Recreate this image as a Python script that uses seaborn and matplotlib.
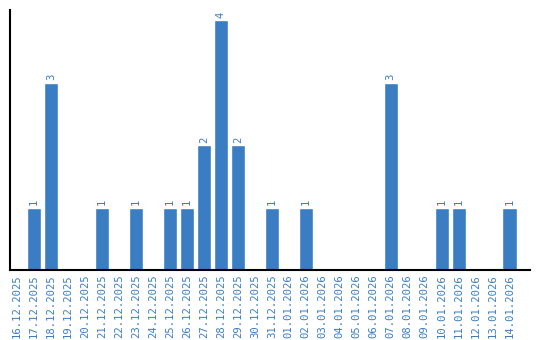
import matplotlib
matplotlib.use("Agg")
import matplotlib.pyplot as plt
import seaborn as sns
import pandas as pd

dates = ["16.12.2025", "17.12.2025", "18.12.2025", "19.12.2025", "20.12.2025",
         "21.12.2025", "22.12.2025", "23.12.2025", "24.12.2025", "25.12.2025",
         "26.12.2025", "27.12.2025", "28.12.2025", "29.12.2025", "30.12.2025",
         "31.12.2025", "01.01.2026", "02.01.2026", "03.01.2026", "04.01.2026",
         "05.01.2026", "06.01.2026", "07.01.2026", "08.01.2026", "09.01.2026",
         "10.01.2026", "11.01.2026", "12.01.2026", "13.01.2026", "14.01.2026"]
counts = [0, 1, 3, 0, 0, 1, 0, 1, 0, 1, 1, 2, 4, 2, 0,
          1, 0, 1, 0, 0, 0, 0, 3, 0, 0, 1, 1, 0, 0, 1]

color = "#3a7dc2"
sns.set_style("white")
plt.rcParams['font.family'] = ['DejaVu Sans Mono', 'DejaVu Sans']

df = pd.DataFrame({"date": dates, "count": counts})
fig = plt.figure(figsize=(5.4, 3.4), dpi=100)
ax = fig.add_axes([10/540, 70/340, 520/540, 260/340])
sns.barplot(data=df, x="date", y="count", color=color, saturation=1, width=0.84, ax=ax)

for i, v in enumerate(counts):
    if v > 0:
        ax.text(i, v + 0.04, str(v), rotation=90, ha="center", va="bottom",
                color=color, fontsize=7.6)

ax.set_xlim(-0.41, 30.2)
ax.set_ylim(0, 4.16)
ax.set_xlabel("")
ax.set_ylabel("")
ax.set_yticks([])
ax.set_xticks(range(len(dates)))
ax.set_xticklabels(dates, rotation=90, color=color, fontsize=7.6)
ax.tick_params(axis="x", length=0, pad=3)
for s in ["top", "right"]:
    ax.spines[s].set_visible(False)
for s in ["left", "bottom"]:
    ax.spines[s].set_color("black")
    ax.spines[s].set_linewidth(1.5)
fig.savefig("out.png", dpi=100)
